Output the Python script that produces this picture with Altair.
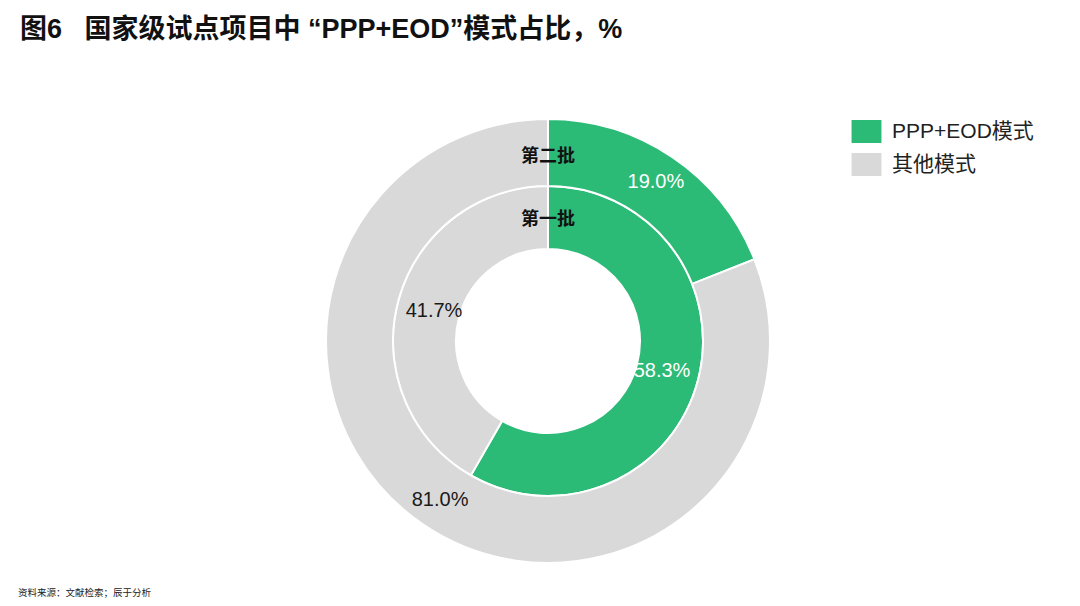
import altair as alt
import pandas as pd

categories = ["PPP+EOD模式", "其他模式"]
batches = ["第一批", "第二批"]
batch1_share = [58.3, 41.7]
batch2_share = [19.0, 81.0]
colors = ["#2CBA77", "#D9D9D9"]
title_text = "图6\u00a0\u00a0 国家级试点项目中\u00a0“PPP+EOD”模式占比，%"
source_text = "资料来源：文献检索；辰于分析"

rows = []
for b, vals in zip(batches, [batch1_share, batch2_share]):
    for i, (c, v) in enumerate(zip(categories, vals)):
        rows.append({"batch": b, "mode": c, "share": v, "ord": i, "label": f"{v:.1f}%"})
df = pd.DataFrame(rows)
names = pd.DataFrame({"batch": batches})
src = pd.DataFrame({"t": [source_text]})

CX, CY = 540, 273
R0, R1, R2 = 92, 155, 222
LATIN = "Liberation Sans, Arial, Noto Sans CJK SC"
CJK = "Noto Sans CJK SC"

color = alt.Color(
    "mode:N",
    scale=alt.Scale(domain=categories, range=colors),
    legend=alt.Legend(
        orient="none", legendX=847, legendY=52, title=None,
        symbolType="M-1.3,-1H1.3V1H-1.3Z", symbolSize=529,
        symbolStrokeWidth=0, symbolOpacity=1,
        labelFontSize=21, labelFont=LATIN, labelColor="#222222",
        rowPadding=10, labelOffset=14, padding=0,
    ),
)
theta = alt.Theta("share:Q", stack=True)
order = alt.Order("ord:Q")
txt_color = alt.when(alt.datum.ord == 0).then(alt.value("white")).otherwise(alt.value("#1a1a1a"))

base = alt.Chart(df)
inner_arc = base.transform_filter(alt.datum.batch == "第一批").mark_arc(
    radius=R0, radius2=R1, stroke="white", strokeWidth=2, x=CX, y=CY
).encode(theta=theta, color=color, order=order)
outer_arc = base.transform_filter(alt.datum.batch == "第二批").mark_arc(
    radius=R1, radius2=R2, stroke="white", strokeWidth=2, x=CX, y=CY
).encode(theta=theta, color=color, order=order)

inner_lbl = base.transform_filter(alt.datum.batch == "第一批").mark_text(
    radius=118, x=CX, y=CY, fontSize=20, font=LATIN
).encode(theta=theta, order=order, text="label:N", color=txt_color)
outer_lbl = base.transform_filter(alt.datum.batch == "第二批").mark_text(
    radius=192, x=CX, y=CY, fontSize=20, font=LATIN
).encode(theta=theta, order=order, text="label:N", color=txt_color)

name_in = alt.Chart(names).transform_filter(alt.datum.batch == "第一批").mark_text(
    theta=0, radius=121, x=CX, y=CY, fontSize=18, font=CJK, fontWeight="bold", color="#111111"
).encode(text="batch:N")
name_out = alt.Chart(names).transform_filter(alt.datum.batch == "第二批").mark_text(
    theta=0, radius=184, x=CX, y=CY, fontSize=18, font=CJK, fontWeight="bold", color="#111111"
).encode(text="batch:N")

source = alt.Chart(src).mark_text(
    x=10, y=525, align="left", fontSize=9.5, font=CJK, color="#222222"
).encode(text="t:N")

chart = alt.layer(
    inner_arc, outer_arc, inner_lbl, outer_lbl, name_in, name_out, source
).properties(
    width=1064, height=530,
    autosize=alt.AutoSizeParams(type="none"),
    padding={"left": 0, "top": 60, "right": 0, "bottom": 0},
    title=alt.TitleParams(
        text=title_text, anchor="start", frame="group", dx=12, offset=24,
        fontSize=27, fontWeight="bold", font=LATIN, color="#111111",
    ),
).configure_view(stroke=None).configure(background="white")

chart.save("out.html", embed_options={"renderer": "svg", "actions": False})
